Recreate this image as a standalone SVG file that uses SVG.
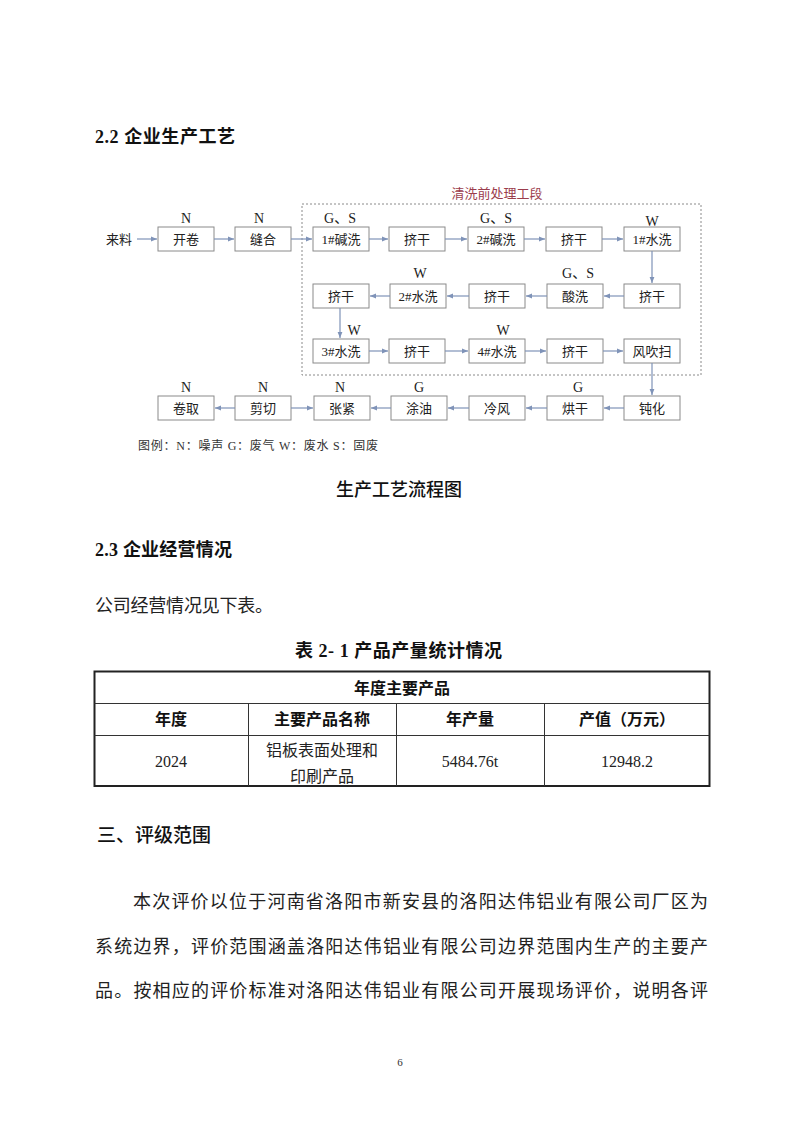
<svg xmlns="http://www.w3.org/2000/svg" width="800" height="1131" viewBox="0 0 800 1131">
<defs>
<style>
.bx{fill:#fff;stroke:#8a8a8a;stroke-width:1}
.bt{font-family:"Liberation Serif","Noto Sans CJK SC",serif;font-size:13px;fill:#222;text-anchor:middle}
.lb{font-family:"Liberation Serif","Noto Sans CJK SC",serif;font-size:14px;fill:#222;text-anchor:middle}
.ar{stroke:#7f93b8;stroke-width:1.2;fill:none;marker-end:url(#ah)}
.h{font-family:"Liberation Serif","Noto Sans CJK SC",serif;font-size:18px;font-weight:bold;fill:#111}
.body{font-family:"Liberation Serif","Noto Sans CJK SC",serif;font-size:18px;fill:#222}
.th{font-family:"Liberation Serif","Noto Sans CJK SC",serif;font-size:16px;font-weight:bold;fill:#111;text-anchor:middle}
.td{font-family:"Liberation Serif","Noto Sans CJK SC",serif;font-size:16px;fill:#222;text-anchor:middle}
</style>
<marker id="ah" viewBox="0 0 10 10" refX="10" refY="5" markerWidth="6" markerHeight="6" markerUnits="userSpaceOnUse" orient="auto">
<path d="M0,1 L10,5 L0,9 z" fill="#7f93b8"/>
</marker>
</defs>
<rect width="800" height="1131" fill="#fff"/>

<text class="h" x="95" y="143" textLength="140" lengthAdjust="spacing">2.2 企业生产工艺</text>

<g id="stage">
<rect x="302" y="204" width="399" height="171" fill="none" stroke="#8a8a8a" stroke-width="1" stroke-dasharray="2,2"/>
<text x="497" y="198" font-family="Noto Sans CJK SC,sans-serif" font-size="13" fill="#9b3c4c" text-anchor="middle">清洗前处理工段</text>
</g>

<g id="n-laoliao"><text class="bt" x="119" y="244">来料</text></g>

<g id="n-kaijuan"><rect class="bx" x="158" y="227" width="56" height="24"/><text class="bt" x="186" y="244">开卷</text><text class="lb" x="186" y="223">N</text></g>
<g id="n-fenghe"><rect class="bx" x="235" y="227" width="56" height="24"/><text class="bt" x="263" y="244">缝合</text><text class="lb" x="259" y="223">N</text></g>
<g id="n-jianxi1"><rect class="bx" x="313" y="227" width="56" height="24"/><text class="bt" x="341" y="244">1#碱洗</text><text class="lb" x="340" y="223">G、S</text></g>
<g id="n-jigan1"><rect class="bx" x="389" y="227" width="56" height="24"/><text class="bt" x="417" y="244">挤干</text></g>
<g id="n-jianxi2"><rect class="bx" x="468" y="227" width="56" height="24"/><text class="bt" x="496" y="244">2#碱洗</text><text class="lb" x="496" y="223">G、S</text></g>
<g id="n-jigan2"><rect class="bx" x="546" y="227" width="56" height="24"/><text class="bt" x="574" y="244">挤干</text></g>
<g id="n-shuixi1"><rect class="bx" x="624" y="227" width="56" height="24"/><text class="bt" x="652" y="244">1#水洗</text><text class="lb" x="652" y="226">W</text></g>

<g id="n-jigan3"><rect class="bx" x="624" y="284" width="56" height="24"/><text class="bt" x="652" y="301">挤干</text></g>
<g id="n-suanxi"><rect class="bx" x="547" y="284" width="56" height="24"/><text class="bt" x="575" y="301">酸洗</text><text class="lb" x="578" y="278">G、S</text></g>
<g id="n-jigan4"><rect class="bx" x="469" y="284" width="56" height="24"/><text class="bt" x="497" y="301">挤干</text></g>
<g id="n-shuixi2"><rect class="bx" x="390" y="284" width="56" height="24"/><text class="bt" x="418" y="301">2#水洗</text><text class="lb" x="420" y="278">W</text></g>
<g id="n-jigan5"><rect class="bx" x="313" y="284" width="56" height="24"/><text class="bt" x="341" y="301">挤干</text></g>

<g id="n-shuixi3"><rect class="bx" x="313" y="339" width="56" height="24"/><text class="bt" x="341" y="356">3#水洗</text><text class="lb" x="354" y="335">W</text></g>
<g id="n-jigan6"><rect class="bx" x="389" y="339" width="56" height="24"/><text class="bt" x="417" y="356">挤干</text></g>
<g id="n-shuixi4"><rect class="bx" x="469" y="339" width="56" height="24"/><text class="bt" x="497" y="356">4#水洗</text><text class="lb" x="503" y="335">W</text></g>
<g id="n-jigan7"><rect class="bx" x="547" y="339" width="56" height="24"/><text class="bt" x="575" y="356">挤干</text></g>
<g id="n-fengchuisao"><rect class="bx" x="624" y="339" width="56" height="24"/><text class="bt" x="652" y="356">风吹扫</text></g>

<g id="n-dunhua"><rect class="bx" x="624" y="396" width="56" height="24"/><text class="bt" x="652" y="413">钝化</text></g>
<g id="n-honggan"><rect class="bx" x="547" y="396" width="56" height="24"/><text class="bt" x="575" y="413">烘干</text><text class="lb" x="578" y="392">G</text></g>
<g id="n-lengfeng"><rect class="bx" x="469" y="396" width="56" height="24"/><text class="bt" x="497" y="413">冷风</text></g>
<g id="n-tuyou"><rect class="bx" x="391" y="396" width="56" height="24"/><text class="bt" x="419" y="413">涂油</text><text class="lb" x="419" y="392">G</text></g>
<g id="n-zhangjin"><rect class="bx" x="314" y="396" width="56" height="24"/><text class="bt" x="342" y="413">张紧</text><text class="lb" x="340" y="392">N</text></g>
<g id="n-jianqie"><rect class="bx" x="235" y="396" width="56" height="24"/><text class="bt" x="263" y="413">剪切</text><text class="lb" x="263" y="392">N</text></g>
<g id="n-juanqu"><rect class="bx" x="158" y="396" width="56" height="24"/><text class="bt" x="186" y="413">卷取</text><text class="lb" x="186" y="392">N</text></g>

<g id="connectors">
<line class="ar" x1="137" y1="239" x2="157" y2="239"/>
<line class="ar" x1="214" y1="239" x2="234" y2="239"/>
<line class="ar" x1="291" y1="239" x2="312" y2="239"/>
<line class="ar" x1="369" y1="239" x2="388" y2="239"/>
<line class="ar" x1="445" y1="239" x2="467" y2="239"/>
<line class="ar" x1="524" y1="239" x2="545" y2="239"/>
<line class="ar" x1="602" y1="239" x2="623" y2="239"/>
<line class="ar" x1="652" y1="251" x2="652" y2="283"/>
<line class="ar" x1="624" y1="296" x2="604" y2="296"/>
<line class="ar" x1="547" y1="296" x2="526" y2="296"/>
<line class="ar" x1="469" y1="296" x2="447" y2="296"/>
<line class="ar" x1="390" y1="296" x2="370" y2="296"/>
<line class="ar" x1="340" y1="308" x2="340" y2="338"/>
<line class="ar" x1="369" y1="351" x2="388" y2="351"/>
<line class="ar" x1="445" y1="351" x2="468" y2="351"/>
<line class="ar" x1="525" y1="351" x2="546" y2="351"/>
<line class="ar" x1="603" y1="351" x2="623" y2="351"/>
<line class="ar" x1="652" y1="363" x2="652" y2="395"/>
<line class="ar" x1="624" y1="408" x2="604" y2="408"/>
<line class="ar" x1="547" y1="408" x2="526" y2="408"/>
<line class="ar" x1="469" y1="408" x2="448" y2="408"/>
<line class="ar" x1="391" y1="408" x2="371" y2="408"/>
<line class="ar" x1="291" y1="408" x2="313" y2="408"/>
<line class="ar" x1="235" y1="408" x2="215" y2="408"/>
</g>

<text x="138" y="450" font-family="Liberation Serif,Noto Sans CJK SC,serif" font-size="12" fill="#333" textLength="240" lengthAdjust="spacing">图例：N：噪声 G：废气 W：废水 S：固废</text>

<text x="399" y="496" font-family="Noto Sans CJK SC,sans-serif" font-size="18" font-weight="500" fill="#111" text-anchor="middle">生产工艺流程图</text>

<text class="h" x="95" y="556" textLength="137" lengthAdjust="spacing">2.3 企业经营情况</text>
<text class="body" x="95" y="612" textLength="178" lengthAdjust="spacing">公司经营情况见下表。</text>
<text class="h" x="295" y="657" textLength="207" lengthAdjust="spacing">表 2- 1 产品产量统计情况</text>

<g id="table">
<rect x="94.5" y="671.5" width="615" height="114.5" fill="none" stroke="#222" stroke-width="2"/>
<line x1="94.5" y1="703.5" x2="709.5" y2="703.5" stroke="#333" stroke-width="1"/>
<line x1="94.5" y1="735.5" x2="709.5" y2="735.5" stroke="#333" stroke-width="1"/>
<line x1="248.5" y1="703.5" x2="248.5" y2="786" stroke="#333" stroke-width="1"/>
<line x1="396.5" y1="703.5" x2="396.5" y2="786" stroke="#333" stroke-width="1"/>
<line x1="544.5" y1="703.5" x2="544.5" y2="786" stroke="#333" stroke-width="1"/>
<text class="th" x="402" y="694">年度主要产品</text>
<text class="th" x="171" y="725">年度</text>
<text class="th" x="322" y="725">主要产品名称</text>
<text class="th" x="470" y="725">年产量</text>
<text class="th" x="627" y="725">产值（万元）</text>
<text class="td" x="171" y="767">2024</text>
<text class="td" x="322" y="756" font-size="18">铝板表面处理和</text>
<text class="td" x="322" y="782" font-size="18">印刷产品</text>
<text class="td" x="470" y="767">5484.76t</text>
<text class="td" x="627" y="767">12948.2</text>
</g>

<text x="97" y="842" font-family="Noto Sans CJK SC,sans-serif" font-size="19" font-weight="500" fill="#111">三、评级范围</text>

<text class="body" x="133" y="908" font-size="19" textLength="575" lengthAdjust="spacing">本次评价以位于河南省洛阳市新安县的洛阳达伟铝业有限公司厂区为</text>
<text class="body" x="95" y="953" font-size="19" textLength="613" lengthAdjust="spacing">系统边界，评价范围涵盖洛阳达伟铝业有限公司边界范围内生产的主要产</text>
<text class="body" x="95" y="997" font-size="19" textLength="613" lengthAdjust="spacing">品。按相应的评价标准对洛阳达伟铝业有限公司开展现场评价，说明各评</text>

<text x="400" y="1066" font-family="Liberation Serif,serif" font-size="11" fill="#333" text-anchor="middle">6</text>
</svg>
